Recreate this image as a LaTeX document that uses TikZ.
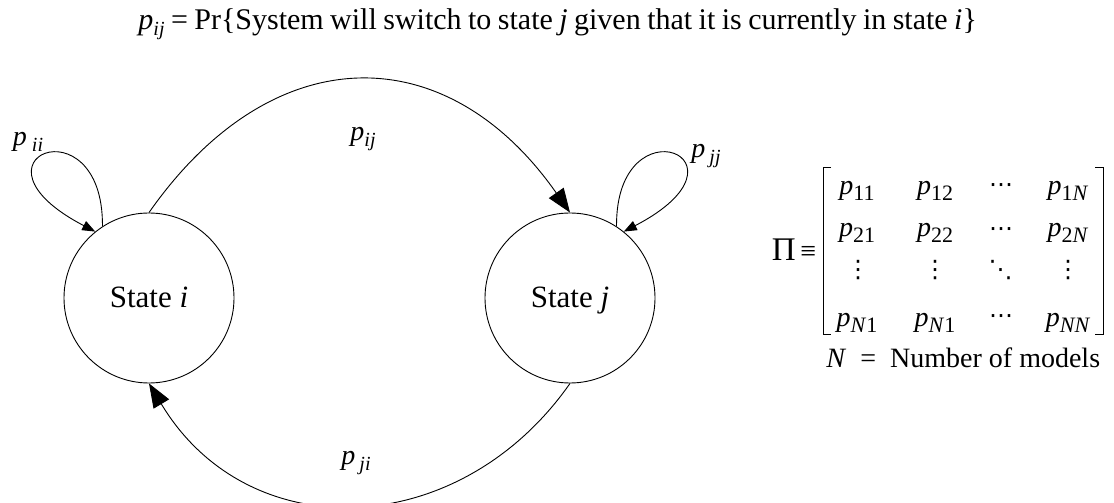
\documentclass[tikz,border=0pt]{standalone}
\usepackage{fontspec}
\setmainfont{Liberation Serif}
\newfontfamily\djv{DejaVu Sans}
\usetikzlibrary{arrows.meta}
\newcommand\psb[2][0pt]{\textit{p}\kern#1\raisebox{-6pt}{\fontsize{20}{20}\selectfont\textit{#2}}}
\newcommand\mpe[1]{\textit{p}\raisebox{-6pt}{\fontsize{22}{22}\selectfont #1}}
\begin{document}
\begin{tikzpicture}[x=1pt,y=1pt,
  font=\fontsize{28}{34}\selectfont,
  every node/.style={inner sep=0pt},
  line width=0.9pt,
  state/.style={circle, draw, minimum size=170pt, inner sep=0pt, text height=20pt, text depth=0pt, font=\fontsize{31}{36}\selectfont},
  bigarrow/.style={-{Triangle[length=24pt,width=18pt]}},
  smallarrow/.style={-{Triangle[length=13pt,width=10pt]}},
  entry/.style={anchor=base},
  dots/.style={font=\djv\fontsize{24}{24}\selectfont},
  brk/.style={line width=0.9pt}]
\useasboundingbox (0,0) rectangle (1114,503);
% title
\node[anchor=base west, font=\fontsize{30}{36}\selectfont] (title) at (138,473) {\spaceskip=0.215em plus 0.05em\relax\psb{ij} = Pr\{System will switch to state \textit{j} given that it is currently in state \textit{i}\}};
% states
\node[state] (i) at (149,205) {State \textit{i}};
\node[state] (j) at (570,205) {State \textit{j}};
% transitions
\draw[bigarrow] (i.north) .. controls +(55:215) and +(125:215) .. (j.north);
\draw[bigarrow] (j.south) .. controls +(235:193) and +(301:193) .. (i.south);
\draw[smallarrow] (i.123) .. controls +(89.5:127) and +(152.5:158) .. (i.129);
\draw[smallarrow] (j.57) .. controls +(90.5:127) and +(27.5:158) .. (j.51);
% labels
\node (pii) at (28,361) {\psb[5pt]{ii}};
\node (pij) at (363,364) {\psb{ij}};
\node (pjj) at (706,347) {\psb[4pt]{jj}};
\node (pji) at (356,40) {\psb[4pt]{ji}};
% matrix
\node (Pi) at (794,253) {{\fontsize{33}{36}\selectfont Π}\,≡};
\draw[brk] (831,336) -- (823,336) -- (823,169) -- (831,169);
\draw[brk] (1095,336) -- (1103,336) -- (1103,169) -- (1095,169);
\node[entry] (a11) at (857,308) {\mpe{11}};
\node[entry] (a12) at (935,308) {\mpe{12}};
\node[dots] (a13) at (1001,315) {⋯};
\node[entry] (a14) at (1068,308) {\mpe{1\textit{N}}};
\node[entry] (a21) at (857,266) {\mpe{21}};
\node[entry] (a22) at (935,266) {\mpe{22}};
\node[dots] (a23) at (1001,271) {⋯};
\node[entry] (a24) at (1068,266) {\mpe{2\textit{N}}};
\node[dots] (a31) at (858,233) {⋮};
\node[dots] (a32) at (935,233) {⋮};
\node[dots] (a33) at (1000.5,233) {⋱};
\node[dots] (a34) at (1068,233) {⋮};
\node[entry] (a41) at (857,176) {\mpe{\textit{N}1}};
\node[entry] (a42) at (935,176) {\mpe{\textit{N}1}};
\node[dots] (a43) at (1001,184) {⋯};
\node[entry] (a44) at (1068,176) {\mpe{\textit{NN}}};
\node[anchor=base west] (Nl) at (826,135) {\textit{N}\ \ =\ \ Number of models};
\end{tikzpicture}
\end{document}
